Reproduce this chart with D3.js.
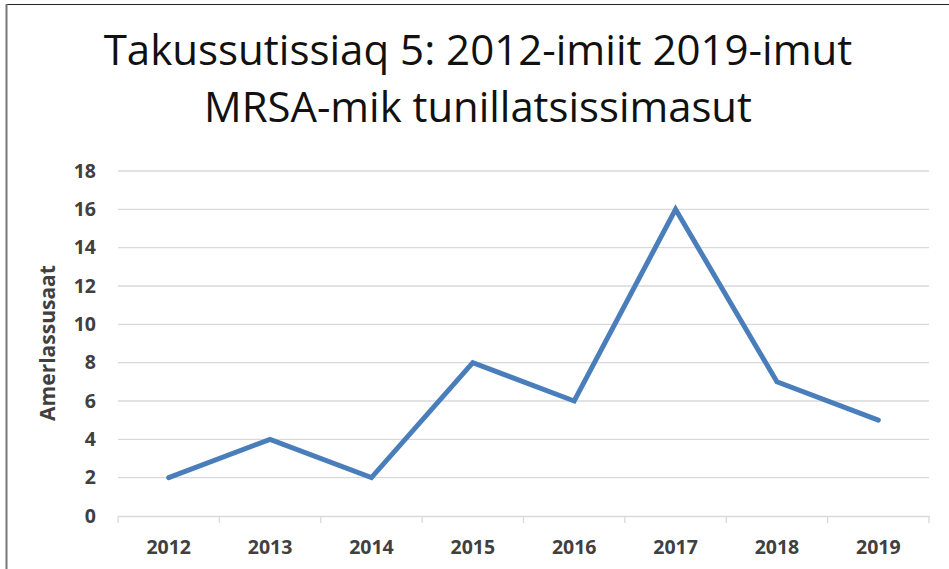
<!DOCTYPE html>
<html>
<head>
<meta charset="utf-8">
<script src="https://cdn.jsdelivr.net/npm/d3@7"></script>
<style>
  body { margin: 0; background: #fff; }
  svg text { font-family: "Open Sans", "Noto Sans", sans-serif; }
</style>
</head>
<body>
<div id="chart"></div>
<script>
var years = ["2012", "2013", "2014", "2015", "2016", "2017", "2018", "2019"];
var cases = [2, 4, 2, 8, 6, 16, 7, 5];
var yTicks = [0, 2, 4, 6, 8, 10, 12, 14, 16, 18];
var titleLines = ["Takussutissiaq 5: 2012-imiit 2019-imut", "MRSA-mik tunillatsissimasut"];
var yLabel = "Amerlassusaat";

var W = 949, H = 569;
var plot = {left: 118, right: 929, top: 171, bottom: 516};

var svg = d3.select("#chart").append("svg").attr("width", W).attr("height", H);

// frame
svg.append("line").attr("x1", 6).attr("y1", 4.5).attr("x2", W).attr("y2", 4.5)
  .style("stroke", "#222").style("stroke-width", 1.2);
svg.append("line").attr("x1", 6.5).attr("y1", 4).attr("x2", 6.5).attr("y2", H)
  .style("stroke", "#777").style("stroke-width", 2);

var x = d3.scaleBand().domain(years).range([plot.left, plot.right]);
var y = d3.scaleLinear().domain([0, 18]).range([plot.bottom, plot.top]);

// gridlines
svg.append("g").selectAll("line").data(yTicks.filter(function(d) { return d > 0; })).enter()
  .append("line")
  .attr("x1", plot.left).attr("x2", plot.right)
  .attr("y1", function(d) { return y(d); }).attr("y2", function(d) { return y(d); })
  .style("stroke", "#d9d9d9").style("stroke-width", 1.3);

// y axis labels
var yAxis = d3.axisLeft(y).tickValues(yTicks).tickSize(0).tickPadding(0);
var gy = svg.append("g").attr("transform", "translate(96,0)").call(yAxis);
gy.select(".domain").remove();
gy.selectAll("text").style("font-size", "19.5px").style("font-weight", "bold").style("fill", "#404040");

// x axis
var xAxis = d3.axisBottom(x).tickSize(0).tickPadding(0);
var gx = svg.append("g").attr("transform", "translate(0," + plot.bottom + ")").call(xAxis);
gx.select(".domain").style("stroke", "#d9d9d9").style("stroke-width", 1.3);
gx.selectAll("text").attr("dy", 0).attr("y", 38)
  .style("font-size", "19.5px").style("font-weight", "bold").style("fill", "#404040");
gx.append("g").selectAll("line").data(years.concat(["end"])).enter().append("line")
  .attr("x1", function(d, i) { return plot.left + i * x.step(); })
  .attr("x2", function(d, i) { return plot.left + i * x.step(); })
  .attr("y1", 0).attr("y2", 7)
  .style("stroke", "#d9d9d9").style("stroke-width", 1.3);

// y label
svg.append("text").attr("transform", "translate(55,343) rotate(-90)")
  .attr("text-anchor", "middle").text(yLabel)
  .style("font-size", "21px").style("font-weight", "bold").style("fill", "#404040");

// line
var line = d3.line()
  .x(function(d, i) { return x(years[i]) + x.bandwidth() / 2; })
  .y(function(d) { return y(d); });
svg.append("path").datum(cases).attr("d", line)
  .style("fill", "none").style("stroke", "#4a7ebb").style("stroke-width", 5)
  .style("stroke-linejoin", "miter").style("stroke-linecap", "round");

// title
var titleY = [65, 122], titleW = [749, 548];
titleLines.forEach(function(t, i) {
  var tx = svg.append("text").attr("x", 478).attr("y", titleY[i]).attr("text-anchor", "middle")
    .text(t).style("font-size", "40px").style("fill", "#111");
  var w = tx.node().getComputedTextLength();
  tx.style("font-size", (40 * titleW[i] / w) + "px");
});
</script>
</body>
</html>
